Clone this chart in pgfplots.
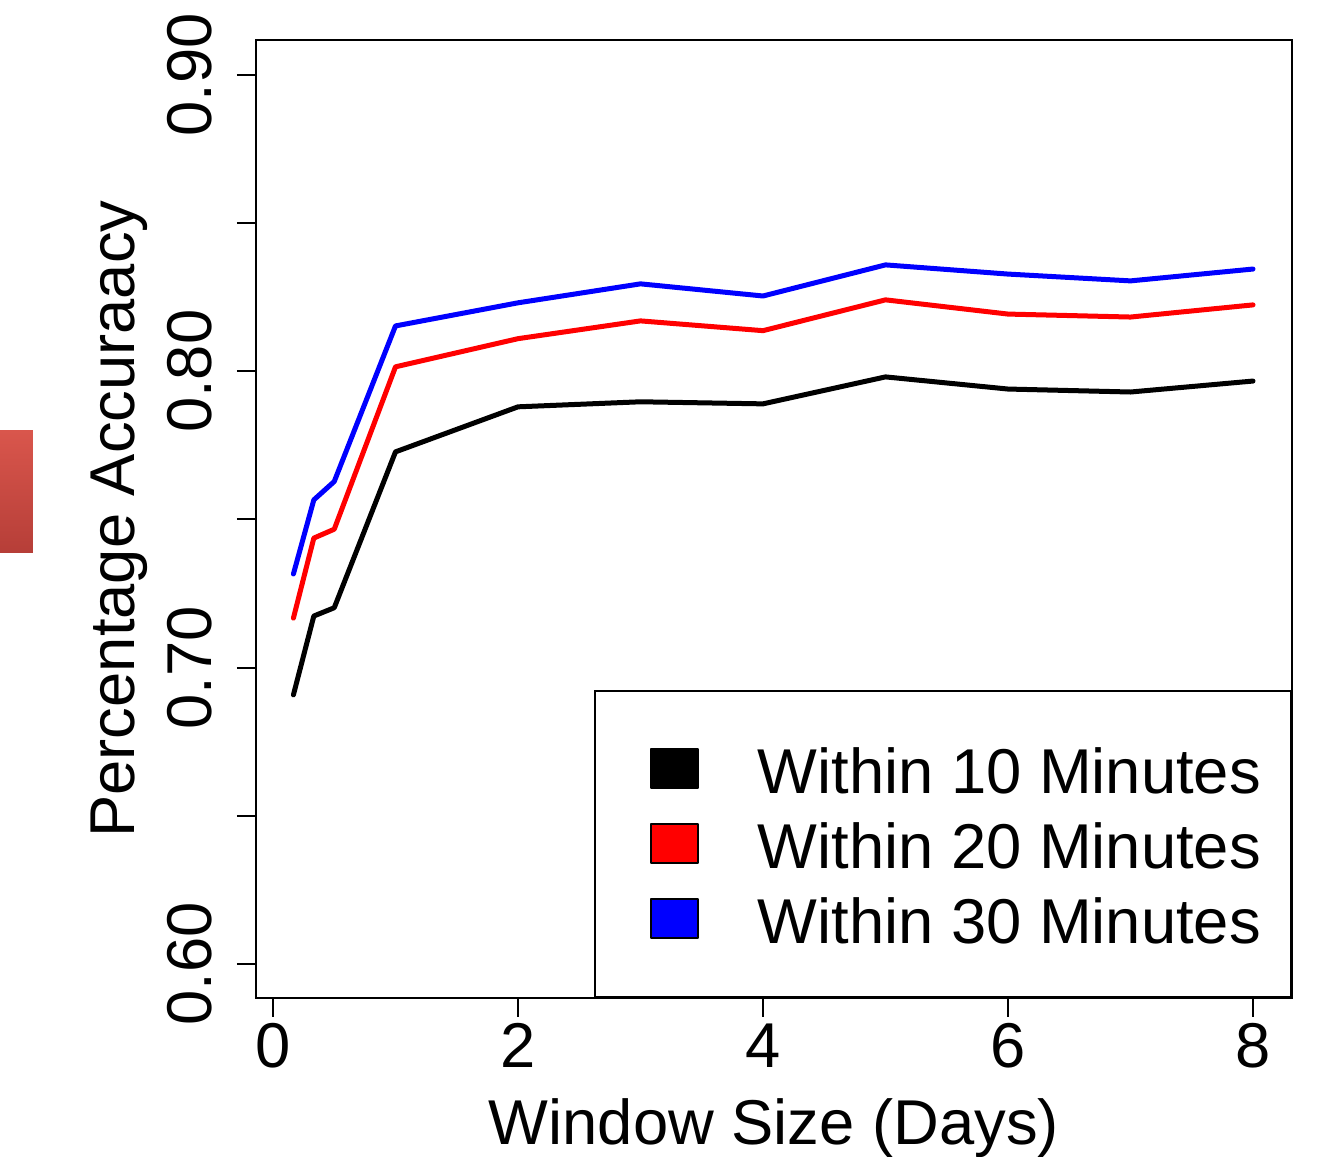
\documentclass[border=0pt]{standalone}
\usepackage{fontspec}
\setmainfont{Liberation Sans}
\usepackage{pgfplots}
\pgfplotsset{compat=1.18}
\newcommand\bigf{\fontsize{19}{22.8}\selectfont}

\begin{document}
\begin{tikzpicture}
\useasboundingbox (-76.8pt,-47.7pt) rectangle (319.5pt,299.4pt);
\begin{axis}[
    scale only axis,
    width=310.8pt, height=287.4pt,
    xmin=-0.1388, xmax=8.318,
    ymin=0.5885, ymax=0.9118,
    axis line style={line width=0.6pt},
    tick align=outside,
    major tick length=5.7pt,
    tick style={line width=0.6pt, black},
    xtick pos=bottom, ytick pos=left,
    xtick={0,2,4,6,8},
    xticklabels={0,2,4,6,8},
    ytick={0.6,0.65,0.7,0.75,0.8,0.85,0.9},
    yticklabels={0.60,,0.70,,0.80,,0.90},
    /pgf/number format/assume math mode=true,
    tick label style={font=\bigf, inner sep=0pt},
    xticklabel style={anchor=north},
    xticklabel shift=1.8pt,
    yticklabel style={rotate=90, anchor=base},
    yticklabel shift=7.5pt,
    xlabel={Window Size (Days)},
    ylabel={Percentage Accuraacy},
    label style={font=\bigf, inner sep=0pt},
    xlabel style={at={(axis description cs:0.5,-0.1534)}, anchor=base},
    ylabel style={at={(axis description cs:-0.1168,0.5)}, anchor=base},
    every axis plot/.append style={line width=1.5pt, line join=round, line cap=round},
    legend style={at={(rel axis cs:1,0)}, anchor=south east, draw=black, line width=0.6pt,
        font=\bigf, inner xsep=9pt, inner ysep=11.8pt, row sep=4.6pt,
        nodes={inner sep=0pt, text height=13.7pt, text depth=4.2pt}},
    legend cell align=left,
]
\addplot[black, forget plot] coordinates {
    (0.1667,0.6908) (0.3333,0.7174) (0.5,0.7202) (1,0.7728) (2,0.7880) (3,0.7897)
    (4,0.7890) (5,0.7981) (6,0.7940) (7,0.7930) (8,0.7967)
};
\addplot[red, forget plot] coordinates {
    (0.1667,0.7167) (0.3333,0.7437) (0.5,0.7467) (1,0.8015) (2,0.8110) (3,0.8170)
    (4,0.8137) (5,0.8241) (6,0.8193) (7,0.8183) (8,0.8224)
};
\addplot[blue, forget plot] coordinates {
    (0.1667,0.7316) (0.3333,0.7566) (0.5,0.7628) (1,0.8153) (2,0.8231) (3,0.8295)
    (4,0.8254) (5,0.8359) (6,0.8328) (7,0.8305) (8,0.8345)
};
\addlegendimage{legend image code/.code={
    \draw[line width=0.4pt, fill=black] (9pt,-3.1pt) rectangle (23.1pt,8.6pt);
    \path (1.8pt,0pt) (40.2pt,0pt) (1.8pt,13.6pt);}}
\addlegendentry{Within 10 Minutes}
\addlegendimage{legend image code/.code={
    \draw[line width=0.4pt, fill=red] (9pt,-3.1pt) rectangle (23.1pt,8.6pt);
    \path (1.8pt,0pt) (40.2pt,0pt);}}
\addlegendentry{Within 20 Minutes}
\addlegendimage{legend image code/.code={
    \draw[line width=0.4pt, fill=blue] (9pt,-3.1pt) rectangle (23.1pt,8.6pt);
    \path (1.8pt,0pt) (40.2pt,0pt);}}
\addlegendentry{Within 30 Minutes}
\end{axis}
\shade[top color={rgb,255:red,217;green,86;blue,76}, bottom color={rgb,255:red,182;green,62;blue,56}]
    (-76.8pt,133.5pt) rectangle (-66.9pt,170.1pt);
\end{tikzpicture}
\end{document}
